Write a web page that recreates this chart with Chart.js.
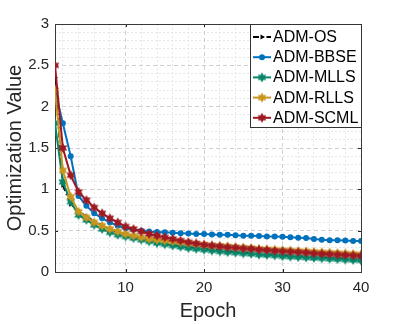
<!DOCTYPE html>
<html>
<head>
<meta charset="utf-8">
<script src="https://cdn.jsdelivr.net/npm/chart.js@4.4.1/dist/chart.umd.min.js"></script>
<style>
html,body{margin:0;padding:0;background:#fff;}
#wrap{width:399px;height:324px;}
</style>
</head>
<body>
<div id="wrap"><canvas id="c" width="399" height="324"></canvas></div>
<script>
const epochs = [1,2,3,4,5,6,7,8,9,10,11,12,13,14,15,16,17,18,19,20,21,22,23,24,25,26,27,28,29,30,31,32,33,34,35,36,37,38,39,40];
const admOS   = [2.35,1.05,0.82,0.74,0.67,0.61,0.56,0.52,0.48,0.45,0.42,0.40,0.38,0.36,0.345,0.33,0.315,0.30,0.29,0.28,0.27,0.26,0.25,0.24,0.235,0.225,0.22,0.21,0.205,0.20,0.195,0.19,0.185,0.18,0.175,0.17,0.165,0.16,0.155,0.15];
const admBBSE = [2.20,1.80,1.40,0.92,0.80,0.71,0.65,0.60,0.56,0.53,0.51,0.50,0.49,0.485,0.48,0.475,0.47,0.465,0.46,0.46,0.455,0.45,0.45,0.445,0.44,0.44,0.435,0.43,0.43,0.425,0.42,0.415,0.41,0.40,0.39,0.385,0.385,0.38,0.375,0.375];
const admMLLS = [1.80,1.09,0.85,0.69,0.63,0.57,0.52,0.48,0.45,0.43,0.41,0.39,0.37,0.35,0.335,0.32,0.305,0.29,0.28,0.27,0.26,0.25,0.24,0.235,0.225,0.22,0.21,0.205,0.20,0.19,0.185,0.18,0.175,0.17,0.165,0.16,0.155,0.15,0.145,0.14];
const admRLLS = [2.20,1.23,0.91,0.73,0.66,0.60,0.56,0.52,0.49,0.46,0.44,0.42,0.40,0.39,0.38,0.37,0.36,0.35,0.34,0.33,0.32,0.315,0.31,0.30,0.295,0.29,0.28,0.275,0.27,0.265,0.26,0.255,0.25,0.245,0.24,0.235,0.23,0.225,0.22,0.215];
const admSCML = [2.50,1.50,1.17,0.97,0.87,0.78,0.71,0.65,0.60,0.55,0.52,0.49,0.46,0.44,0.42,0.40,0.38,0.36,0.345,0.33,0.32,0.31,0.30,0.295,0.285,0.28,0.27,0.265,0.255,0.25,0.245,0.24,0.235,0.225,0.22,0.215,0.21,0.205,0.20,0.195];
const seriesNames = ['ADM-OS','ADM-BBSE','ADM-MLLS','ADM-RLLS','ADM-SCML'];
const xTickLabels = [10,20,30,40];
const yTickLabels = [0,0.5,1,1.5,2,2.5,3];

const FONT = "'Liberation Sans', Arial, Helvetica, sans-serif";
const colors = ['#000000','#0072bd','#07866a','#c8961e','#9e1a22'];

function hexagram(color, r){
  const c = document.createElement('canvas');
  const s = Math.ceil(r*2+2);
  c.width = s; c.height = s;
  const g = c.getContext('2d');
  const cx = s/2, cy = s/2, ri = r*0.55;
  g.beginPath();
  for(let i=0;i<12;i++){
    const a = -Math.PI/2 + i*Math.PI/6;
    const rr = i%2===0 ? r : ri;
    const x = cx + rr*Math.cos(a), y = cy + rr*Math.sin(a);
    if(i===0) g.moveTo(x,y); else g.lineTo(x,y);
  }
  g.closePath();
  g.fillStyle = color; g.fill();
  return c;
}

const seriesValues = [admOS, admBBSE, admMLLS, admRLLS, admSCML];
const styles = [
  {pointStyle:'triangle', rotation:90, radius:3, dash:[6,3,1.5,3]},
  {pointStyle:'circle', rotation:0, radius:3, dash:[]},
  {pointStyle:hexagram(colors[2],5), rotation:0, radius:5, dash:[]},
  {pointStyle:hexagram(colors[3],5), rotation:0, radius:5, dash:[]},
  {pointStyle:hexagram(colors[4],5), rotation:0, radius:5, dash:[]}
];
const drawOrder = [5,4,3,2,1];

const datasets = seriesNames.map((n,i)=>({
  label:n,
  data: epochs.map((e,k)=>({x:e,y:seriesValues[i][k]})),
  borderColor: colors[i],
  backgroundColor: colors[i],
  borderWidth: 2,
  borderDash: styles[i].dash,
  pointStyle: styles[i].pointStyle,
  pointRotation: styles[i].rotation,
  pointRadius: styles[i].radius,
  pointBorderWidth: 0,
  pointBackgroundColor: colors[i],
  pointBorderColor: colors[i],
  tension: 0,
  order: drawOrder[i]
}));

const boxPlugin = {
  id:'boxPlugin',
  beforeDatasetsDraw(chart){
    const {ctx, chartArea:a, scales} = chart;
    ctx.save();
    ctx.strokeStyle = '#262626';
    ctx.lineWidth = 1;
    ctx.beginPath();
    xTickLabels.forEach(v=>{
      const px = Math.round(scales.x.getPixelForValue(v))+0.5;
      ctx.moveTo(px, a.bottom); ctx.lineTo(px, a.bottom-3);
      ctx.moveTo(px, a.top); ctx.lineTo(px, a.top+3);
    });
    yTickLabels.forEach(v=>{
      const py = Math.round(scales.y.getPixelForValue(v))+0.5;
      ctx.moveTo(a.left, py); ctx.lineTo(a.left+3, py);
      ctx.moveTo(a.right, py); ctx.lineTo(a.right-3, py);
    });
    ctx.stroke();
    ctx.strokeStyle = '#3a3a3a';
    ctx.strokeRect(Math.round(a.left)+0.5, Math.round(a.top)+0.5, Math.round(a.right-a.left), Math.round(a.bottom-a.top));
    ctx.restore();
  }
};

const legendPlugin = {
  id:'legendPlugin',
  afterDraw(chart){
    const {ctx, chartArea:a} = chart;
    const w = 111, h = 103;
    const x0 = Math.round(a.right) - w, y0 = Math.round(a.top);
    ctx.save();
    ctx.fillStyle = '#fff';
    ctx.fillRect(x0, y0, w, h);
    ctx.strokeStyle = '#333';
    ctx.lineWidth = 1;
    ctx.strokeRect(x0+0.5, y0+0.5, w, h);
    chart.data.datasets.forEach((ds,i)=>{
      const y = y0 + 13 + i*20.2;
      ctx.save();
      ctx.strokeStyle = ds.borderColor;
      ctx.lineWidth = 2;
      ctx.setLineDash(ds.borderDash || []);
      ctx.beginPath();
      ctx.moveTo(x0+3, y); ctx.lineTo(x0+21, y);
      ctx.stroke();
      ctx.restore();
      ctx.fillStyle = ds.pointBackgroundColor;
      ctx.strokeStyle = ds.pointBorderColor;
      Chart.helpers.drawPoint(ctx, {pointStyle: ds.pointStyle, rotation: ds.pointRotation, radius: ds.pointRadius, borderWidth: 0}, x0+12, y);
      ctx.fillStyle = '#000';
      ctx.font = '16px ' + FONT;
      ctx.textBaseline = 'middle';
      ctx.textAlign = 'left';
      ctx.fillText(ds.label, x0+23, y+0.5);
    });
    ctx.restore();
  }
};

const minorX = []; for(let v=2; v<40; v+=2){ if(v%10!==0) minorX.push(v); }
const minorY = []; for(let k=1; k<30; k++){ if(k%5!==0) minorY.push(k/10); }

new Chart(document.getElementById('c'), {
  type:'line',
  data:{datasets},
  plugins:[boxPlugin, legendPlugin],
  options:{
    responsive:false,
    animation:false,
    devicePixelRatio:1,
    layout:{padding:{left:0, top:24, right:38, bottom:0}},
    plugins:{legend:{display:false}, tooltip:{enabled:false}},
    scales:{
      xm:{type:'linear', position:'bottom', min:1, max:40,
        afterBuildTicks(s){ s.ticks = minorX.map(v=>({value:v})); },
        afterFit(s){ s.height = 0; },
        ticks:{display:false},
        border:{display:false, dash:[2,2]},
        grid:{color:'#e6e6e6', lineWidth:1, drawTicks:false},
      },
      ym:{type:'linear', position:'left', min:0, max:3,
        afterBuildTicks(s){ s.ticks = minorY.map(v=>({value:v})); },
        afterFit(s){ s.width = 0; },
        ticks:{display:false},
        border:{display:false, dash:[2,2]},
        grid:{color:'#e6e6e6', lineWidth:1, drawTicks:false},
      },
      x:{type:'linear', position:'bottom', min:1, max:40,
        afterBuildTicks(s){ s.ticks = xTickLabels.map(v=>({value:v})); },
        afterFit(s){ s.height = 52; },
        ticks:{font:{family:FONT, size:15}, color:'#262626', padding:7, maxRotation:0, callback:(v)=>String(v)},
        border:{display:false, dash:[4,3]},
        grid:{color:'#cfcfcf', lineWidth:1, drawTicks:false},
        title:{display:true, text:'Epoch', font:{family:FONT, size:20}, color:'#262626', padding:{top:0,bottom:1}}
      },
      y:{type:'linear', position:'left', min:0, max:3,
        afterBuildTicks(s){ s.ticks = yTickLabels.map(v=>({value:v})); },
        afterFit(s){ s.width = 55; },
        ticks:{font:{family:FONT, size:15}, color:'#262626', padding:6, callback:(v)=>String(v)},
        border:{display:false, dash:[4,3]},
        grid:{color:'#cfcfcf', lineWidth:1, drawTicks:false},
        title:{display:true, text:'Optimization Value', font:{family:FONT, size:20}, color:'#262626', padding:{top:3,bottom:0}}
      }
    }
  }
});
</script>
</body>
</html>
